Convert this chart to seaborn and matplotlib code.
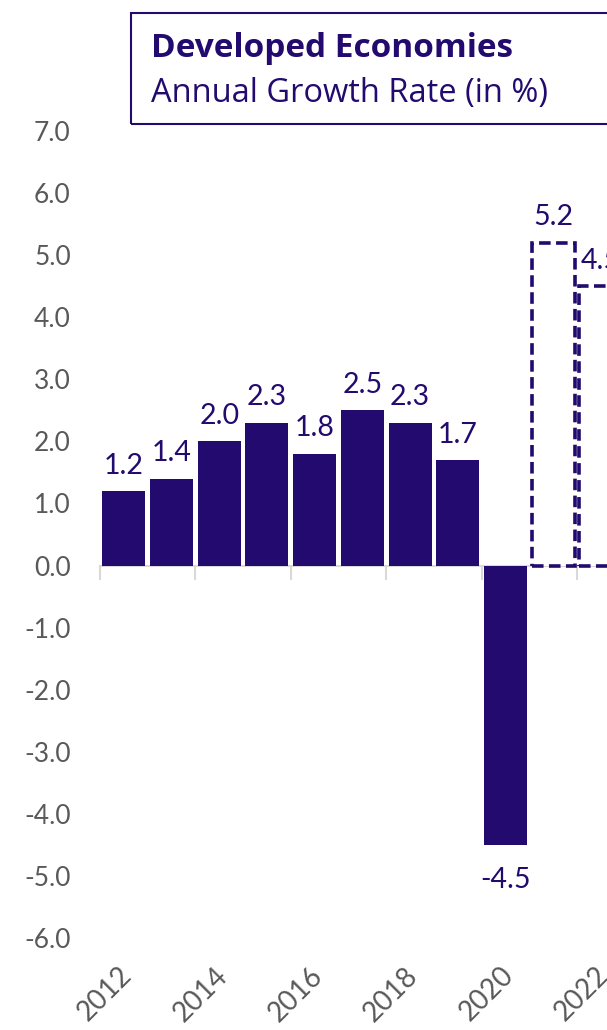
import matplotlib
matplotlib.use("Agg")
import matplotlib.pyplot as plt
from matplotlib.patches import Rectangle
from matplotlib.transforms import ScaledTranslation
import seaborn as sns
import pandas as pd

# Annual GDP growth, developed economies (2021-2022 are projections)
years = ["2012", "2013", "2014", "2015", "2016", "2017",
         "2018", "2019", "2020", "2021", "2022"]
growth = [1.2, 1.4, 2.0, 2.3, 1.8, 2.5, 2.3, 1.7, -4.5, 5.2, 4.5]
projected = [False] * 9 + [True, True]
y_ticks = [-6, -5, -4, -3, -2, -1, 0, 1, 2, 3, 4, 5, 6, 7]
labelled_years = ["2012", "2014", "2016", "2018", "2020", "2022"]

title_main = "Developed Economies"
title_sub = "Annual Growth Rate (in %)"

PURPLE = "#230a6e"
GREY_TXT = "#595959"
GREY_AXIS = "#d9d9d9"

sns.set_theme(style="white")
plt.rcParams["font.family"] = ["Lato", "DejaVu Sans"]
plt.rcParams["xtick.labelsize"] = 20
plt.rcParams["ytick.labelsize"] = 19
plt.rcParams["xtick.labelcolor"] = GREY_TXT
plt.rcParams["ytick.labelcolor"] = GREY_TXT

W, H = 607, 1030
fig = plt.figure(figsize=(W / 100, H / 100), dpi=100)

# axes placed in pixel terms; the right edge runs past the canvas
left_px, right_px, top_px, bottom_px = 100, 100 + 11 * 47.7, 131, 938
ax = fig.add_axes([left_px / W, (H - bottom_px) / H,
                   (right_px - left_px) / W, (bottom_px - top_px) / H])

df = pd.DataFrame({"year": years, "growth": growth})
sns.barplot(data=df, x="year", y="growth", order=years, color=PURPLE,
            saturation=1, width=0.9, ax=ax)

bars = ax.containers[0]
for patch, proj in zip(bars, projected):
    patch.set_edgecolor(PURPLE if proj else "none")
    if proj:
        patch.set_facecolor("white")
        patch.set_linestyle((0, (3.2, 1.5)))
        patch.set_linewidth(2.6)
        patch.set_zorder(3)

ymin, ymax = y_ticks[0], y_ticks[-1]
ax.set_xlim(-0.5, len(years) - 0.5)
ax.set_ylim(ymin, ymax)

# value labels
pos_labels = [f"{v:.1f}" if v >= 0 else "" for v in growth]
neg_labels = [f"{v:.1f}" if v < 0 else "" for v in growth]
ax.bar_label(bars, labels=pos_labels, padding=9, color=PURPLE, fontsize=20.5)
ax.bar_label(bars, labels=neg_labels, padding=16, color=PURPLE, fontsize=20.5)

# y axis
ax.set_yticks(y_ticks)
ax.set_yticklabels([f"{v:.1f}" for v in y_ticks])
ax.tick_params(axis="y", length=0, pad=21)

ax.set_xlabel("")
ax.set_ylabel("")
for side in ["top", "right", "left", "bottom"]:
    ax.spines[side].set_visible(False)

# zero line with tick marks between category pairs
label_pos = [years.index(y) for y in labelled_years]
zero_axis = ax.secondary_xaxis((0 - ymin) / (ymax - ymin))
zero_axis.set_xticks([p - 0.5 for p in label_pos])
zero_axis.set_xticklabels([])
zero_axis.tick_params(axis="x", length=10, width=1.5, color=GREY_AXIS,
                      direction="out")
zero_axis.spines["bottom"].set_color(GREY_AXIS)
zero_axis.spines["bottom"].set_linewidth(1.5)
for side in ["top", "right", "left"]:
    zero_axis.spines[side].set_visible(False)
zero_axis.set_zorder(0.5)

# year labels along the bottom
ax.set_xticks(label_pos)
ax.set_xticklabels(labelled_years, rotation=45, ha="right", va="center",
                   rotation_mode="anchor", fontsize=20)
ax.tick_params(axis="x", length=0, pad=24)
shift = ScaledTranslation(0.04, 0, fig.dpi_scale_trans)
for lab in ax.get_xticklabels():
    lab.set_transform(lab.get_transform() + shift)

# title box
box_l, box_t, box_b = 131, 13, 124
fig.add_artist(Rectangle((box_l / W, (H - box_b) / H), 1.0, (box_b - box_t) / H,
                         transform=fig.transFigure, fill=False,
                         edgecolor=PURPLE, linewidth=1.5))
fig.text(151 / W, (H - 57) / H, title_main, fontsize=24, fontweight="bold",
         color=PURPLE, va="baseline", ha="left",
         family=["Open Sans", "DejaVu Sans"])
fig.text(151 / W, (H - 102) / H, title_sub, fontsize=23.5,
         color=PURPLE, va="baseline", ha="left",
         family=["Open Sans", "DejaVu Sans"])

fig.savefig("out.png", dpi=100, facecolor="white")
